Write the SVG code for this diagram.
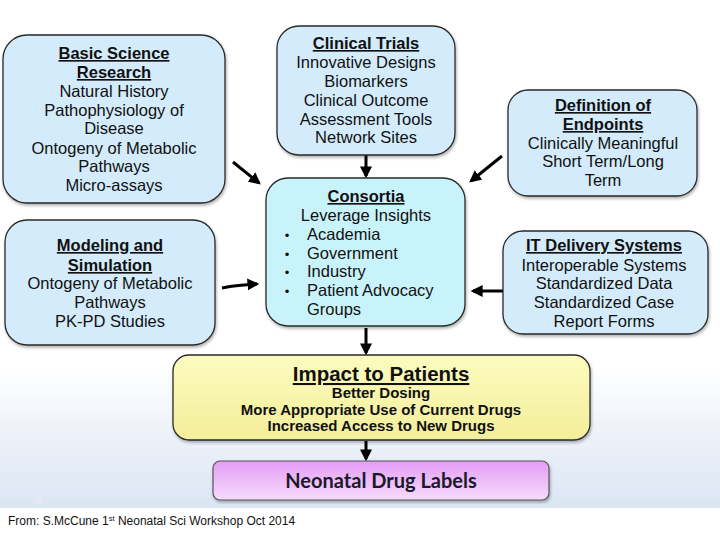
<svg xmlns="http://www.w3.org/2000/svg" width="720" height="540" viewBox="0 0 720 540">
<defs>
<linearGradient id="bg" x1="0" y1="0" x2="0" y2="1">
<stop offset="0" stop-color="#ffffff"/>
<stop offset="0.72" stop-color="#ffffff"/>
<stop offset="1" stop-color="#dbe5f3"/>
</linearGradient>
<linearGradient id="yel" x1="0" y1="0" x2="0" y2="1">
<stop offset="0" stop-color="#fcfcc0"/>
<stop offset="1" stop-color="#f3ee9a"/>
</linearGradient>
<linearGradient id="pur" x1="0" y1="0" x2="0" y2="1">
<stop offset="0" stop-color="#e49cf5"/>
<stop offset="1" stop-color="#f5dcfb"/>
</linearGradient>
<marker id="ah" viewBox="0 0 10 10" refX="8" refY="5" markerWidth="4" markerHeight="4" orient="auto" markerUnits="strokeWidth">
<path d="M0,0 L10,5 L0,10 z" fill="#000"/>
</marker>
<filter id="sh" x="-5%" y="-5%" width="110%" height="115%">
<feDropShadow dx="1" dy="2" stdDeviation="1.5" flood-color="#000" flood-opacity="0.3"/>
</filter>
</defs>
<style>
.box{fill:#d3ebfa;stroke:#2a2a2a;stroke-width:1.3;filter:url(#sh)}
.t{font-family:"Liberation Sans",Arial,sans-serif;font-size:16.5px;fill:#111;text-anchor:middle}
.h{font-weight:bold;text-decoration:underline}
.l{text-anchor:start}
.b{font-size:15px;font-weight:bold}
.c{stroke:#000;stroke-width:3;fill:none;marker-end:url(#ah)}
</style>
<rect x="0" y="0" width="720" height="508" fill="url(#bg)"/>
<rect x="0" y="508" width="720" height="32" fill="#ffffff"/>
<text x="32" y="504" font-family="Liberation Sans,sans-serif" font-size="10" fill="#e8eef8">35</text>
<text x="8" y="525" font-family="Liberation Sans,sans-serif" font-size="12" fill="#111">From: S.McCune 1<tspan font-size="7.5" dy="-4">st</tspan><tspan dy="4"> Neonatal Sci Workshop Oct 2014</tspan></text>

<g id="connectors">
<path class="c" d="M233,162 L259,183"/>
<path class="c" d="M502,156 L471,181"/>
<path class="c" d="M222,288 Q238,285 257,284"/>
<path class="c" d="M503,291 L473,291"/>
<path class="c" d="M366,155 L366,176"/>
<path class="c" d="M366,328 L366,353"/>
<path class="c" d="M366,441 L366,459"/>
</g>

<g id="basic-science">
<rect class="box" x="3" y="35" width="222" height="168" rx="24"/>
<text class="t h" x="114" y="59">Basic Science</text>
<text class="t h" x="114" y="78">Research</text>
<text class="t" x="114" y="97">Natural History</text>
<text class="t" x="114" y="116">Pathophysiology of</text>
<text class="t" x="114" y="134">Disease</text>
<text class="t" x="114" y="154">Ontogeny of Metabolic</text>
<text class="t" x="114" y="172">Pathways</text>
<text class="t" x="114" y="191">Micro-assays</text>
</g>

<g id="clinical-trials">
<rect class="box" x="277" y="26" width="178" height="129" rx="22"/>
<text class="t h" x="366" y="49">Clinical Trials</text>
<text class="t" x="366" y="68">Innovative Designs</text>
<text class="t" x="366" y="87">Biomarkers</text>
<text class="t" x="366" y="106">Clinical Outcome</text>
<text class="t" x="366" y="125">Assessment Tools</text>
<text class="t" x="366" y="143">Network Sites</text>
</g>

<g id="endpoints">
<rect class="box" x="508" y="90" width="189" height="106" rx="20"/>
<text class="t h" x="603" y="111">Definition of</text>
<text class="t h" x="603" y="130">Endpoints</text>
<text class="t" x="603" y="149">Clinically Meaningful</text>
<text class="t" x="603" y="167">Short Term/Long</text>
<text class="t" x="603" y="186">Term</text>
</g>

<g id="modeling">
<rect class="box" x="5" y="220" width="210" height="125" rx="22"/>
<text class="t h" x="110" y="251">Modeling and</text>
<text class="t h" x="110" y="271">Simulation</text>
<text class="t" x="110" y="289">Ontogeny of Metabolic</text>
<text class="t" x="110" y="308">Pathways</text>
<text class="t" x="110" y="327">PK-PD Studies</text>
</g>

<g id="consortia">
<rect class="box" x="266" y="178" width="199" height="148" rx="22" style="fill:#c9f3fa"/>
<text class="t h" x="366" y="202">Consortia</text>
<text class="t" x="366" y="221">Leverage Insights</text>
<text class="t" x="287" y="240" style="font-size:13px">•</text>
<text class="t" x="287" y="259" style="font-size:13px">•</text>
<text class="t" x="287" y="277" style="font-size:13px">•</text>
<text class="t" x="287" y="296" style="font-size:13px">•</text>
<text class="t l" x="307" y="240">Academia</text>
<text class="t l" x="307" y="259">Government</text>
<text class="t l" x="307" y="277">Industry</text>
<text class="t l" x="307" y="296">Patient Advocacy</text>
<text class="t l" x="307" y="315">Groups</text>
</g>

<g id="it-delivery">
<rect class="box" x="503" y="231" width="205" height="103" rx="20"/>
<text class="t h" x="604" y="251">IT Delivery Systems</text>
<text class="t" x="604" y="271">Interoperable Systems</text>
<text class="t" x="604" y="289">Standardized Data</text>
<text class="t" x="604" y="308">Standardized Case</text>
<text class="t" x="604" y="327">Report Forms</text>
</g>

<g id="impact">
<rect class="box" x="173" y="355" width="417" height="85" rx="16" style="fill:url(#yel)"/>
<text class="t h" x="381" y="381" style="font-size:20.5px">Impact to Patients</text>
<text class="t b" x="381" y="398">Better Dosing</text>
<text class="t b" x="381" y="415">More Appropriate Use of Current Drugs</text>
<text class="t b" x="381" y="431">Increased Access to New Drugs</text>
</g>

<g id="drug-labels">
<rect x="213" y="461" width="336" height="39" rx="7" fill="url(#pur)" stroke="#555" stroke-width="1.2" filter="url(#sh)"/>
<text x="381" y="488" text-anchor="middle" font-family="Lato,'Open Sans',sans-serif" font-weight="bold" font-size="20" fill="#1a1a2a">Neonatal Drug Labels</text>
</g>
</svg>
